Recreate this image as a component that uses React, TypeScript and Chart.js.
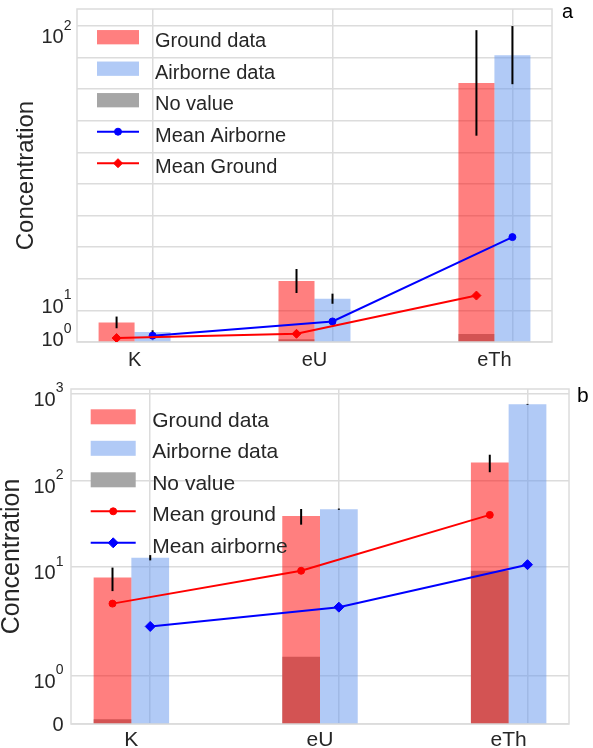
import React, { useEffect, useRef } from 'react';
import { Chart, registerables, LinearScale } from 'chart.js';

const FONT = "'Liberation Sans', Arial, Helvetica, sans-serif";
const TEXT = '#262626';
const GRID = '#dcdcdc';
const GRID_W = 1.5;
const GROUND_COLOR = 'rgba(255, 0, 0, 0.5)';
const AIRBORNE_COLOR = 'rgba(100, 149, 237, 0.5)';
const NOVALUE_COLOR = '#a6a6a6';
const MEAN_GROUND_COLOR = '#ff0000';
const MEAN_AIRBORNE_COLOR = '#0000ff';
const BAR_W = 0.2;
const X_MIN = -0.42;
const X_MAX = 2.22;

// ---------- shared ----------
const categories = ['K', 'eU', 'eTh'];
const barLabels = ['Ground data', 'Airborne data', 'No value'];

// ---------- panel a ----------
const groundA = [6.2, 19.3, 82.0];
const groundErrA = [1.85, 3.8, 16.7];
const airborneA = [3.2, 13.7, 90.8];
const airborneErrA = [0.5, 1.6, 9.2];
const noValueA = [0.2, 0.9, 2.5];
const meanGroundA = [1.25, 2.6, 14.7];
const meanAirborneA = [2.0, 6.5, 33.2];
const yGridA = [0, 10, 20, 30, 40, 50, 60, 70, 80, 90, 100];
const yTickValuesA = [2.4, 13.1, 98.3];
const yTickLabelsA = [['10', '0'], ['10', '1'], ['10', '2']];

// ---------- panel b ----------
const groundB = [7.6, 39, 162];
const groundErrB = [2.3, 8, 37];
const airborneB = [12.9, 46.8, 760];
const airborneErrB = [0.9, 0.8, 8];
const noValueB = [0.1, 1.4, 9.1];
const meanGroundB = [3.8, 9.1, 40.2];
const meanAirborneB = [2.07, 3.46, 10.7];
const yGridB = [0, 1, 10, 100, 1000];
const yTickValuesB = [0, 1, 10, 100, 1000];
const yTickLabelsB = [['0', ''], ['10', '0'], ['10', '1'], ['10', '2'], ['10', '3']];

// ---------- symlog scale (linthresh 2, linscale 1) ----------
const SYM_THRESH = 2;
const SYM_LINSCALE = 1;
const SYM_ADJ = SYM_LINSCALE / (1 - 1 / 10);
function symT(v: number) {
  const a = Math.abs(v);
  if (a <= SYM_THRESH) return v * SYM_ADJ;
  return Math.sign(v) * SYM_THRESH * (SYM_ADJ + Math.log10(a / SYM_THRESH));
}
function symInv(t: number) {
  const a = Math.abs(t);
  const lim = SYM_THRESH * SYM_ADJ;
  if (a <= lim) return t / SYM_ADJ;
  return Math.sign(t) * SYM_THRESH * Math.pow(10, a / SYM_THRESH - SYM_ADJ);
}

class SymlogScale extends LinearScale {
  static id = 'symlog';
  static defaults = {};
  _tStart = 0;
  _tRange = 1;
  configure() {
    super.configure();
    this._tStart = symT(this.min);
    this._tRange = symT(this.max) - this._tStart || 1;
  }
  getPixelForValue(value: any) {
    if (value === null || value === undefined || Number.isNaN(value)) return NaN;
    return this.getPixelForDecimal((symT(value) - this._tStart) / this._tRange);
  }
  getValueForPixel(pixel: number) {
    return symInv(this._tStart + this.getDecimalForPixel(pixel) * this._tRange);
  }
}

Chart.register(...registerables, SymlogScale as any);
Chart.defaults.font.family = FONT;
Chart.defaults.color = TEXT;

type Spec = any;

const specA: Spec = {
  ground: groundA, groundErr: groundErrA, airborne: airborneA, airborneErr: airborneErrA,
  noValue: noValueA, meanGround: meanGroundA, meanAirborne: meanAirborneA,
  meanGroundLabel: 'Mean Ground', meanAirborneLabel: 'Mean Airborne',
  groundMarker: 'rectRot', groundMarkerR: 4.5, airborneMarker: 'circle', airborneMarkerR: 3.5,
  legendOrder: ['ground', 'airborne', 'noValue', 'meanAirborne', 'meanGround'],
  yType: 'linear', yMax: 105.4, yGrid: yGridA, yTickValues: yTickValuesA, yTickLabels: yTickLabelsA,
  height: 376, padding: { left: 0, right: 41, top: 9, bottom: 0 }, yWidth: 77, xlHeight: 34,
  xFont: 20, xPad: 6, titleFont: 24, titlePad: 14.5, tickFont: 20, tickPad: 5.5,
  legend: { left: 20, firstRow: 28.2, rowGap: 31.5, handleW: 42, boxH: 14.3, textGap: 16, textDy: 10, font: 20 },
  letter: 'a', letterDx: 10, letterDy: 8.5, letterFont: 20,
};

const specB: Spec = {
  ground: groundB, groundErr: groundErrB, airborne: airborneB, airborneErr: airborneErrB,
  noValue: noValueB, meanGround: meanGroundB, meanAirborne: meanAirborneB,
  meanGroundLabel: 'Mean ground', meanAirborneLabel: 'Mean airborne',
  groundMarker: 'circle', groundMarkerR: 3.5, airborneMarker: 'rectRot', airborneMarkerR: 5,
  legendOrder: ['ground', 'airborne', 'noValue', 'meanGround', 'meanAirborne'],
  yType: 'symlog', yMax: 1142, yGrid: yGridB, yTickValues: yTickValuesB, yTickLabels: yTickLabelsB,
  height: 372, padding: { left: 0, right: 24, top: 13, bottom: 0 }, yWidth: 71, xlHeight: 24,
  xFont: 21, xPad: 3.5, titleFont: 25, titlePad: 0, tickFont: 20, tickPad: 7.5,
  legend: { left: 19.7, firstRow: 27.8, rowGap: 31.5, handleW: 45, boxH: 15, textGap: 16.5, textDy: 10, font: 21 },
  letter: 'b', letterDx: 8, letterDy: 12.7, letterFont: 21,
};

function drawMarker(ctx: CanvasRenderingContext2D, style: string, x: number, y: number, r: number, color: string) {
  ctx.beginPath();
  if (style === 'rectRot') {
    ctx.moveTo(x - r, y);
    ctx.lineTo(x, y - r);
    ctx.lineTo(x + r, y);
    ctx.lineTo(x, y + r);
    ctx.closePath();
  } else {
    ctx.arc(x, y, r, 0, Math.PI * 2);
  }
  ctx.fillStyle = color;
  ctx.fill();
  ctx.lineWidth = 1;
  ctx.strokeStyle = color;
  ctx.stroke();
}

function makeDecor(s: Spec) {
  const legendItems: any = {
    ground: { kind: 'box', label: barLabels[0], color: GROUND_COLOR },
    airborne: { kind: 'box', label: barLabels[1], color: AIRBORNE_COLOR },
    noValue: { kind: 'box', label: barLabels[2], color: NOVALUE_COLOR },
    meanGround: { kind: 'line', label: s.meanGroundLabel, color: MEAN_GROUND_COLOR, marker: s.groundMarker, r: s.groundMarkerR },
    meanAirborne: { kind: 'line', label: s.meanAirborneLabel, color: MEAN_AIRBORNE_COLOR, marker: s.airborneMarker, r: s.airborneMarkerR },
  };
  return {
    id: 'decor' + s.letter,
    beforeDatasetsDraw(chart: any) {
      const { ctx, chartArea: a } = chart;
      ctx.save();
      ctx.strokeStyle = GRID;
      ctx.lineWidth = GRID_W;
      ctx.strokeRect(a.left, a.top, a.right - a.left, a.bottom - a.top);
      ctx.restore();
    },
    afterDraw(chart: any) {
      const { ctx, chartArea: a } = chart;
      const ys = chart.scales.y;
      ctx.save();
      ctx.textBaseline = 'alphabetic';
      ctx.fillStyle = TEXT;
      // y tick labels with superscripts
      const baseFont = `${s.tickFont}px ${FONT}`;
      const supFont = `${Math.round(s.tickFont * 0.7)}px ${FONT}`;
      s.yTickValues.forEach((v: number, i: number) => {
        const [base, sup] = s.yTickLabels[i];
        const py = ys.getPixelForValue(v);
        const right = a.left - s.tickPad;
        if (!sup) {
          ctx.font = baseFont;
          ctx.textAlign = 'right';
          ctx.textBaseline = 'middle';
          ctx.fillText(base, right, py + 1);
          ctx.textBaseline = 'alphabetic';
          return;
        }
        ctx.font = supFont;
        const supW = ctx.measureText(sup).width;
        ctx.textAlign = 'left';
        ctx.fillText(sup, right - supW, py - 1.5);
        ctx.font = baseFont;
        ctx.textAlign = 'right';
        ctx.fillText(base, right - supW, py + 12);
      });
      // legend
      const L = s.legend;
      s.legendOrder.forEach((key: string, k: number) => {
        const item = legendItems[key];
        const cy = a.top + L.firstRow + k * L.rowGap;
        const hx = a.left + L.left;
        if (item.kind === 'box') {
          ctx.fillStyle = item.color;
          ctx.fillRect(hx, cy - L.boxH / 2, L.handleW, L.boxH);
        } else {
          ctx.strokeStyle = item.color;
          ctx.lineWidth = 2;
          ctx.beginPath();
          ctx.moveTo(hx, cy);
          ctx.lineTo(hx + L.handleW, cy);
          ctx.stroke();
          drawMarker(ctx, item.marker, hx + L.handleW / 2, cy, item.r, item.color);
        }
        ctx.fillStyle = TEXT;
        ctx.font = `${L.font}px ${FONT}`;
        ctx.textAlign = 'left';
        ctx.fillText(item.label, hx + L.handleW + L.textGap, cy + L.textDy);
      });
      // panel letter
      ctx.fillStyle = '#000';
      ctx.font = `${s.letterFont}px ${FONT}`;
      ctx.textAlign = 'left';
      ctx.fillText(s.letter, a.right + s.letterDx, a.top + s.letterDy);
      ctx.restore();
    },
  };
}

function buildConfig(s: Spec): any {
  const gx = (i: number) => i - BAR_W;
  const ax = (i: number) => i;
  const pts = (vals: number[], xf: (i: number) => number) => vals.map((v, i) => ({ x: xf(i), y: v }));
  const errs = (vals: number[], e: number[], xf: (i: number) => number) =>
    vals.map((v, i) => ({ x: xf(i), y: [v - e[i], v + e[i]] }));
  const barCommon = {
    type: 'bar', xAxisID: 'x', yAxisID: 'y', grouped: false, barPercentage: 1, categoryPercentage: 1,
    borderWidth: 0, inflateAmount: 0,
  };
  const lineCommon = {
    type: 'line', xAxisID: 'x', yAxisID: 'y', order: 1, borderWidth: 2, pointBorderWidth: 1, tension: 0, fill: false,
  };
  const datasets = [
    {
      ...lineCommon, label: s.meanGroundLabel, data: pts(s.meanGround, gx),
      borderColor: MEAN_GROUND_COLOR, backgroundColor: MEAN_GROUND_COLOR,
      pointBackgroundColor: MEAN_GROUND_COLOR, pointBorderColor: MEAN_GROUND_COLOR,
      pointStyle: s.groundMarker, pointRadius: s.groundMarkerR,
    },
    {
      ...lineCommon, label: s.meanAirborneLabel, data: pts(s.meanAirborne, ax),
      borderColor: MEAN_AIRBORNE_COLOR, backgroundColor: MEAN_AIRBORNE_COLOR,
      pointBackgroundColor: MEAN_AIRBORNE_COLOR, pointBorderColor: MEAN_AIRBORNE_COLOR,
      pointStyle: s.airborneMarker, pointRadius: s.airborneMarkerR,
    },
    { ...barCommon, label: 'ground error', order: 2, barThickness: 2, backgroundColor: '#000', data: errs(s.ground, s.groundErr, gx) },
    { ...barCommon, label: 'airborne error', order: 2, barThickness: 2, backgroundColor: '#000', data: errs(s.airborne, s.airborneErr, ax) },
    { ...barCommon, label: barLabels[0], order: 3, backgroundColor: GROUND_COLOR, data: pts(s.ground, gx) },
    { ...barCommon, label: barLabels[1], order: 3, backgroundColor: AIRBORNE_COLOR, data: pts(s.airborne, ax) },
    { ...barCommon, label: barLabels[2], order: 4, backgroundColor: NOVALUE_COLOR, data: pts(s.noValue, gx) },
  ];
  return {
    type: 'bar',
    data: { datasets },
    options: {
      responsive: false,
      animation: false,
      events: [],
      layout: { padding: s.padding },
      plugins: { legend: { display: false }, tooltip: { enabled: false }, title: { display: false } },
      scales: {
        x: {
          type: 'linear', position: 'bottom', min: X_MIN, max: X_MAX, offset: false, bounds: 'data',
          grid: { color: GRID, lineWidth: GRID_W, drawTicks: false, offset: false },
          border: { display: false },
          ticks: { display: false },
          afterBuildTicks: (sc: any) => { sc.ticks = categories.map((_, i) => ({ value: ax(i) })); },
          afterFit: (sc: any) => { sc.height = 0; },
        },
        xl: {
          type: 'linear', position: 'bottom', min: X_MIN, max: X_MAX, offset: false, bounds: 'data',
          grid: { display: false, drawTicks: false },
          border: { display: false },
          ticks: {
            font: { size: s.xFont, lineHeight: 1.2 }, color: TEXT, padding: s.xPad, maxRotation: 0, autoSkip: false,
            callback: (_v: any, idx: number) => categories[idx],
          },
          afterBuildTicks: (sc: any) => { sc.ticks = categories.map((_, i) => ({ value: i - BAR_W / 2 })); },
          afterFit: (sc: any) => { sc.height = s.xlHeight; },
        },
        y: {
          type: s.yType, position: 'left', min: 0, max: s.yMax, bounds: 'data', stacked: false,
          grid: { color: GRID, lineWidth: GRID_W, drawTicks: false },
          border: { display: false },
          ticks: { display: false },
          title: {
            display: true, text: 'Concentration', color: TEXT,
            font: { size: s.titleFont, lineHeight: 1 }, padding: { top: s.titlePad, bottom: 0 },
          },
          afterBuildTicks: (sc: any) => { sc.ticks = s.yGrid.map((v: number) => ({ value: v })); },
          afterFit: (sc: any) => { sc.width = s.yWidth; },
        },
      },
    },
    plugins: [makeDecor(s)],
  };
}

export default function App() {
  const refA = useRef<HTMLCanvasElement>(null);
  const refB = useRef<HTMLCanvasElement>(null);
  useEffect(() => {
    const ca = new Chart(refA.current as HTMLCanvasElement, buildConfig(specA));
    const cb = new Chart(refB.current as HTMLCanvasElement, buildConfig(specB));
    return () => {
      ca.destroy();
      cb.destroy();
    };
  }, []);
  return (
    <div style={{ position: 'absolute', left: 0, top: 0, width: 593, height: 748, background: '#ffffff' }}>
      <canvas ref={refA} width={593} height={specA.height} style={{ display: 'block', width: 593, height: specA.height }} />
      <canvas ref={refB} width={593} height={specB.height} style={{ display: 'block', width: 593, height: specB.height }} />
    </div>
  );
}
